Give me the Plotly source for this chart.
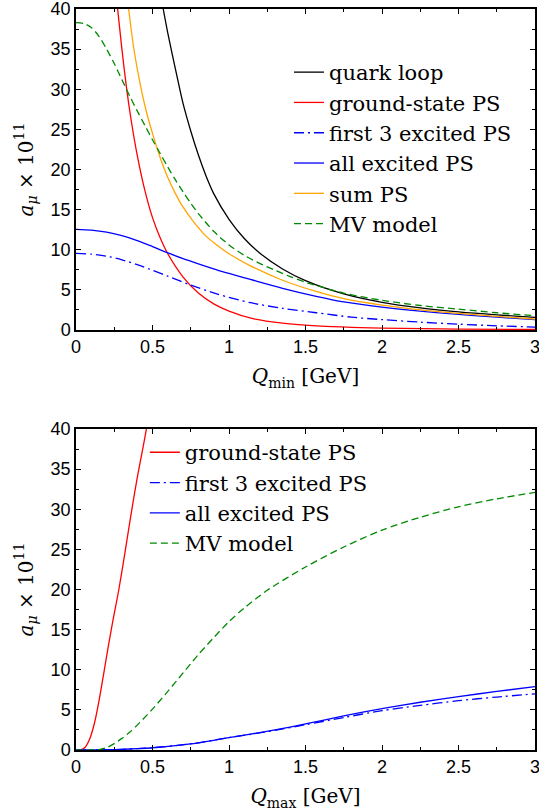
import plotly.graph_objects as go

# ---------------- top panel: a_mu vs Q_min ----------------
qmin_quark = [0.57, 0.6, 0.65, 0.7, 0.75, 0.8, 0.85, 0.9, 1.0, 1.1, 1.2, 1.35, 1.5, 1.75, 2.0, 2.25, 2.5, 2.75, 3.0]
quark_loop = [40, 37.0, 32.5, 28.2, 24.8, 21.8, 19.2, 17.0, 13.8, 11.4, 9.6, 7.6, 6.15, 4.5, 3.45, 2.75, 2.25, 1.88, 1.58]

qmin_ground = [0.272, 0.3, 0.33, 0.36, 0.4, 0.45, 0.5, 0.55, 0.6, 0.7, 0.8, 0.9, 1.0, 1.15, 1.35, 1.6, 1.8, 2.0, 2.5, 3.0]
ground_state_min = [40, 35.0, 30.2, 26.2, 21.8, 17.4, 14.0, 11.5, 9.5, 6.6, 4.6, 3.25, 2.35, 1.45, 0.85, 0.48, 0.33, 0.24, 0.12, 0.07]

qmin_first3 = [0, 0.1, 0.2, 0.3, 0.4, 0.5, 0.6, 0.75, 0.92, 1.14, 1.35, 1.57, 1.8, 2.0, 2.25, 2.5, 2.75, 3.0]
first3_min = [9.55, 9.45, 9.2, 8.75, 8.15, 7.45, 6.7, 5.6, 4.5, 3.4, 2.7, 2.15, 1.6, 1.3, 0.98, 0.73, 0.52, 0.37]

qmin_all = [0, 0.1, 0.2, 0.3, 0.4, 0.5, 0.6, 0.7, 0.8, 0.92, 1.0, 1.14, 1.35, 1.57, 1.75, 2.0, 2.25, 2.5, 2.75, 3.0]
all_excited_min = [12.55, 12.45, 12.2, 11.75, 11.15, 10.4, 9.6, 8.9, 8.25, 7.5, 7.05, 6.3, 5.2, 4.2, 3.5, 2.85, 2.35, 1.95, 1.6, 1.3]

qmin_sum = [0.344, 0.38, 0.42, 0.46, 0.5, 0.55, 0.6, 0.65, 0.7, 0.76, 0.85, 0.92, 1.0, 1.14, 1.35, 1.57, 1.75, 2.0, 2.25, 2.5, 2.75, 3.0]
sum_ps_min = [40, 34.8, 30.6, 27.2, 24.5, 21.5, 19.0, 17.0, 15.3, 13.7, 11.7, 10.6, 9.5, 8.0, 6.2, 4.8, 3.9, 3.1, 2.52, 2.08, 1.7, 1.37]

qmin_mv = [0, 0.05, 0.1, 0.15, 0.2, 0.25, 0.3, 0.35, 0.4, 0.45, 0.5, 0.55, 0.6, 0.65, 0.7, 0.75, 0.8, 0.9, 1.0, 1.1, 1.2, 1.3, 1.4, 1.5, 1.75, 2.0, 2.25, 2.5, 2.75, 3.0]
mv_model_min = [38.3, 38.2, 37.7, 36.6, 35.0, 33.2, 31.2, 29.2, 27.3, 25.5, 23.7, 22.0, 20.3, 18.7, 17.2, 15.8, 14.5, 12.3, 10.6, 9.3, 8.3, 7.45, 6.65, 5.95, 4.6, 3.7, 3.05, 2.6, 2.15, 1.78]

# ---------------- bottom panel: a_mu vs Q_max ----------------
qmax_ground = [0, 0.03, 0.06, 0.09, 0.12, 0.15, 0.18, 0.21, 0.24, 0.28, 0.32, 0.36, 0.4, 0.44, 0.47]
ground_state_max = [0, 0.02, 0.35, 1.4, 3.3, 6.1, 9.4, 12.8, 16.0, 20.0, 24.6, 29.4, 33.9, 37.9, 41.0]

qmax_exc = [0, 0.1, 0.2, 0.3, 0.4, 0.5, 0.65, 0.8, 1.0, 1.15, 1.3, 1.5, 1.75, 2.0, 2.25, 2.5, 2.75, 3.0]
first3_max = [0, 0.0, 0.03, 0.08, 0.17, 0.28, 0.55, 0.9, 1.55, 1.98, 2.45, 3.15, 4.05, 4.9, 5.55, 6.15, 6.6, 7.0]
all_excited_max = [0, 0.0, 0.03, 0.08, 0.17, 0.28, 0.55, 0.9, 1.55, 2.0, 2.5, 3.25, 4.25, 5.15, 5.95, 6.65, 7.3, 7.9]

qmax_mv = [0, 0.1, 0.15, 0.2, 0.25, 0.3, 0.35, 0.4, 0.5, 0.6, 0.7, 0.8, 0.9, 1.0, 1.1, 1.25, 1.5, 1.75, 2.0, 2.25, 2.5, 2.75, 3.0]
mv_model_max = [0, 0.0, 0.05, 0.3, 0.8, 1.45, 2.2, 3.1, 5.1, 7.3, 9.6, 11.9, 14.0, 16.0, 17.7, 19.9, 22.8, 25.3, 27.4, 29.0, 30.3, 31.3, 32.1]

# tick / label text
x_ticks = [0, 0.5, 1, 1.5, 2, 2.5, 3]
y_ticks = [0, 5, 10, 15, 20, 25, 30, 35, 40]

BLACK = "#000000"
RED = "#ff0000"
BLUE = "#0000ff"
ORANGE = "#ffa500"
GREEN = "#008a00"
DASHDOT = "10px,4px,2px,4px"
DASHED = "7px,4px"
LW = 1.3

fig = go.Figure()

def add(x, y, name, color, dash, xa, ya, legend):
    fig.add_trace(go.Scatter(
        x=x, y=y, name=name, mode="lines",
        line=dict(color=color, width=LW, dash=dash, shape="spline", smoothing=0.8),
        xaxis=xa, yaxis=ya, legend=legend,
    ))

add(qmin_quark, quark_loop, "quark loop", BLACK, "solid", "x", "y", "legend")
add(qmin_ground, ground_state_min, "ground-state PS", RED, "solid", "x", "y", "legend")
add(qmin_first3, first3_min, "first 3 excited PS", BLUE, DASHDOT, "x", "y", "legend")
add(qmin_all, all_excited_min, "all excited PS", BLUE, "solid", "x", "y", "legend")
add(qmin_sum, sum_ps_min, "sum PS", ORANGE, "solid", "x", "y", "legend")
add(qmin_mv, mv_model_min, "MV model", GREEN, DASHED, "x", "y", "legend")

add(qmax_ground, ground_state_max, "ground-state PS", RED, "solid", "x2", "y2", "legend2")
add(qmax_exc, first3_max, "first 3 excited PS", BLUE, DASHDOT, "x2", "y2", "legend2")
add(qmax_exc, all_excited_max, "all excited PS", BLUE, "solid", "x2", "y2", "legend2")
add(qmax_mv, mv_model_max, "MV model", GREEN, DASHED, "x2", "y2", "legend2")

SERIF = '"DejaVu Serif", "Liberation Serif", serif'
tick_font = dict(family='"Liberation Sans", Arial, sans-serif', size=18, color="black")
title_font = dict(family=SERIF, size=20, color="black")

def xaxis(anchor, title):
    return dict(
        range=[0, 3], tickvals=x_ticks, ticktext=[str(v) for v in x_ticks],
        showline=True, linecolor="black", linewidth=1.5, mirror="ticks",
        ticks="inside", ticklen=5, tickwidth=1, tickcolor="black",
        minor=dict(ticks="inside", ticklen=3, tickwidth=1, dtick=0.25, tickcolor="black"),
        showgrid=False, zeroline=False, tickfont=tick_font,
        ticklabeloverflow="allow",
        anchor=anchor, automargin=False,
        title=dict(text=title, font=title_font, standoff=13),
    )

def yaxis(domain, anchor):
    return dict(
        range=[0, 40], domain=domain, tickvals=y_ticks, ticktext=[str(v) for v in y_ticks],
        showline=True, linecolor="black", linewidth=1.5, mirror="ticks",
        ticks="inside", ticklen=5, tickwidth=1, tickcolor="black",
        minor=dict(ticks="inside", ticklen=3, tickwidth=1, dtick=2.5, tickcolor="black"),
        showgrid=False, zeroline=False, tickfont=tick_font, anchor=anchor, automargin=False,
        ticklabeloverflow="allow",
        title=dict(text="<i>a</i><sub><i>μ</i></sub> × 10<sup>11</sup>", font=title_font, standoff=12),
    )

legend_font = dict(family=SERIF, size=21, color="black")

fig.update_layout(
    width=539, height=812,
    margin=dict(l=76, r=4, t=9, b=62, autoexpand=False),
    paper_bgcolor="white", plot_bgcolor="white",
    font=dict(family=SERIF, color="black"),
    xaxis=xaxis("y", "<i>Q</i><sub>min</sub> [GeV]"),
    yaxis=yaxis([0.5668, 1.0], "x"),
    xaxis2=xaxis("y2", "<i>Q</i><sub>max</sub> [GeV]"),
    yaxis2=yaxis([0.0, 0.4332], "x2"),
    legend=dict(x=0.464, y=0.942, xanchor="left", yanchor="top",
                bgcolor="rgba(0,0,0,0)", font=legend_font, itemwidth=30,
                tracegroupgap=0),
    legend2=dict(x=0.150, y=0.429, xanchor="left", yanchor="top",
                 bgcolor="rgba(0,0,0,0)", font=legend_font, itemwidth=30,
                 tracegroupgap=0),
    showlegend=True,
)

fig.write_html(
    "out.html",
    config={"displayModeBar": False},
    post_script="document.body.style.margin='0';document.body.style.padding='0';",
)
